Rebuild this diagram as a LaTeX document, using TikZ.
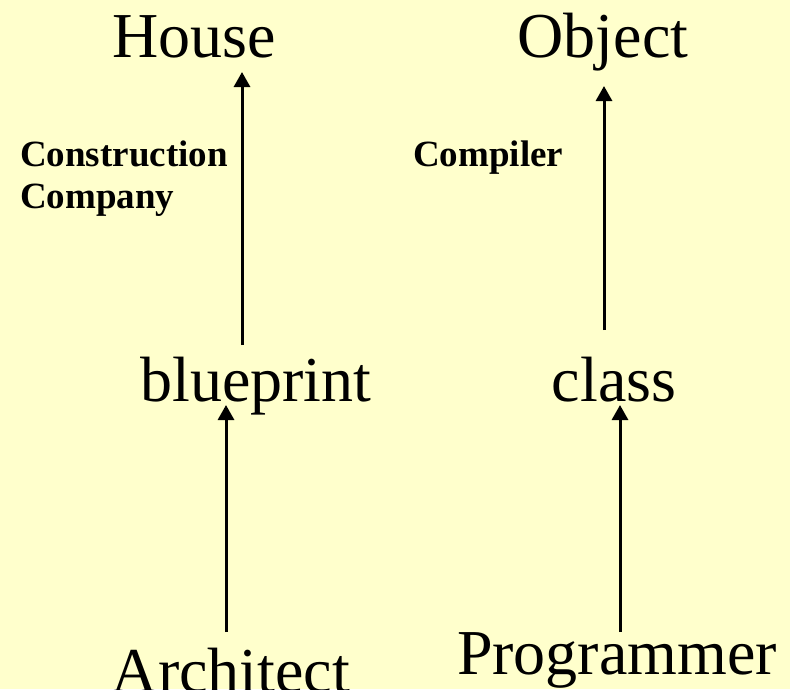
\documentclass[tikz,border=0pt]{standalone}
\usepackage{fontspec}
\setmainfont{Liberation Serif}
\usetikzlibrary{arrows.meta}
\definecolor{bg}{HTML}{FFFFCC}
\tikzset{
  big/.style={inner sep=0pt, anchor=base, font=\fontsize{64}{70}\selectfont},
  lbl/.style={inner sep=0pt, anchor=base west, font=\fontsize{37}{42}\selectfont\bfseries},
  arr/.style={line width=3pt, -{Triangle[width=16pt,length=15pt]}}
}
\begin{document}
\begin{tikzpicture}[x=1pt,y=-1pt]
\useasboundingbox (0,0) rectangle (790,689);
\clip (0,0) rectangle (790,689);
\fill[bg] (0,0) rectangle (790,689);
\node[big] (house) at (194,57) {House};
\node[big] (object) at (603,57) {Object};
\node[big] (blueprint) at (256,401) {blueprint};
\node[big] (class) at (614,401) {class};
\node[big] (architect) at (231,692) {Architect};
\node[big] (programmer) at (617,674) {Programmer};
\node[lbl] (cc1) at (20,166) {Construction};
\node[lbl] (cc2) at (20,208) {Company};
\node[lbl] (comp) at (413,166) {Compiler};
% connector endpoints
\coordinate (h1) at (242,345);
\coordinate (h2) at (242,72);
\coordinate (o1) at (604,330);
\coordinate (o2) at (604,86);
\coordinate (b1) at (226,632);
\coordinate (b2) at (226,405);
\coordinate (c1) at (620,632);
\coordinate (c2) at (620,405);
\draw[arr] (h1) -- (h2);
\draw[arr] (o1) -- (o2);
\draw[arr] (b1) -- (b2);
\draw[arr] (c1) -- (c2);
\end{tikzpicture}
\end{document}
